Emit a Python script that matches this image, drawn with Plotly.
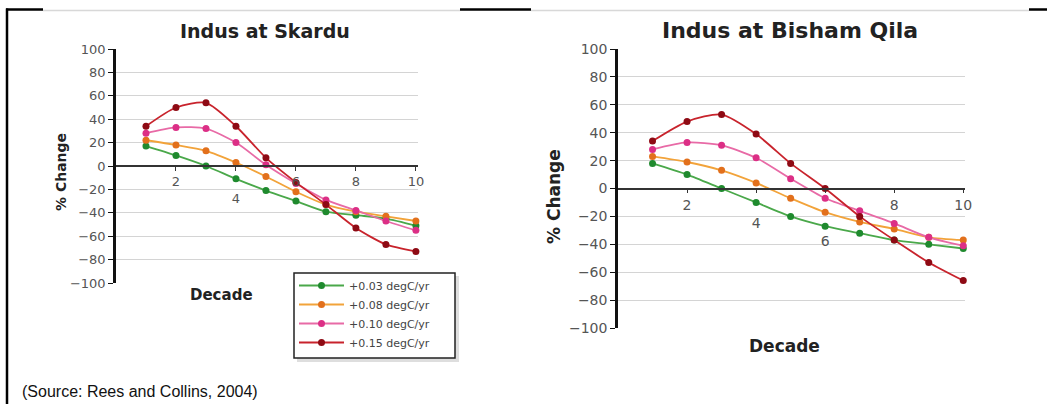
import plotly.graph_objects as go

decades = [1, 2, 3, 4, 5, 6, 7, 8, 9, 10]
series_names = ["+0.03 degC/yr", "+0.08 degC/yr", "+0.10 degC/yr", "+0.15 degC/yr"]

skardu_003 = [17, 9, 0, -11, -21, -30, -39, -42, -45, -51]
skardu_008 = [22, 18, 13, 3, -9, -22, -33, -39, -43, -47]
skardu_010 = [28, 33, 32, 20, 1, -15, -29, -38, -47, -55]
skardu_015 = [34, 50, 54, 34, 7, -14, -33, -53, -67, -73]

bisham_003 = [18, 10, 0, -10, -20, -27, -32, -37, -40, -43]
bisham_008 = [23, 19, 13, 4, -7, -17, -24, -29, -35, -37]
bisham_010 = [28, 33, 31, 22, 7, -7, -16, -25, -35, -41]
bisham_015 = [34, 48, 53, 39, 18, 0, -20, -37, -53, -66]

y_ticks = [-100, -80, -60, -40, -20, 0, 20, 40, 60, 80, 100]
x_ticks = [2, 4, 6, 8, 10]
skardu_xticktext = ["2", "<br>4", "6", "8", "10"]
bisham_xticktext = ["2", "<br>4", "<br><br>6", "8", "10"]

line_colors = ["#4aa84a", "#f2a33a", "#e86aa6", "#c8232c"]
marker_colors = ["#1f8a2e", "#e2701c", "#dc2f86", "#8e0a14"]

W, H = 1047, 404


def px_x(p):
    return p / W


def px_y(p):
    return 1 - p / H


fig = go.Figure()

skardu = [skardu_003, skardu_008, skardu_010, skardu_015]
bisham = [bisham_003, bisham_008, bisham_010, bisham_015]

for i, name in enumerate(series_names):
    fig.add_trace(go.Scatter(
        x=decades, y=skardu[i], name=name, mode="lines+markers",
        line=dict(color=line_colors[i], width=1.8, shape="spline", smoothing=0.7),
        marker=dict(color=marker_colors[i], size=7),
        xaxis="x", yaxis="y", cliponaxis=False, showlegend=True,
    ))
for i, name in enumerate(series_names):
    fig.add_trace(go.Scatter(
        x=decades, y=bisham[i], name=name, mode="lines+markers",
        line=dict(color=line_colors[i], width=1.8, shape="spline", smoothing=0.7),
        marker=dict(color=marker_colors[i], size=7),
        xaxis="x2", yaxis="y2", cliponaxis=False, showlegend=False,
    ))

tick_font = dict(family="DejaVu Sans", size=13, color="#555555")
tick_font2 = dict(family="DejaVu Sans", size=14, color="#555555")

left_dom_x = [px_x(116), px_x(418)]
left_dom_y = [px_y(283), px_y(49)]
right_dom_x = [px_x(618), px_x(965)]
right_dom_y = [px_y(328), px_y(49)]

fig.update_layout(
    width=W, height=H, autosize=False,
    margin=dict(l=0, r=0, t=0, b=0, autoexpand=False),
    paper_bgcolor="white", plot_bgcolor="white",
    xaxis=dict(domain=left_dom_x, range=[0, 10.07], anchor="free", automargin=False,
               position=(left_dom_y[0] + left_dom_y[1]) / 2,
               tickvals=x_ticks, ticktext=skardu_xticktext, showgrid=False, zeroline=False,
               showline=True, linecolor="#333333", linewidth=1.5,
               ticks="outside", ticklen=4, tickcolor="#333333", tickfont=tick_font),
    yaxis=dict(domain=left_dom_y, range=[-100, 100], anchor="x", automargin=False,
               tickvals=y_ticks, showgrid=True, gridcolor="#d4d4d4", gridwidth=1,
               zeroline=False, showline=True, linecolor="#111111", linewidth=2.5,
               ticks="outside", ticklen=5, tickcolor="#111111", tickfont=tick_font),
    xaxis2=dict(domain=right_dom_x, range=[0, 10.05], anchor="free", automargin=False,
                position=(right_dom_y[0] + right_dom_y[1]) / 2,
                tickvals=x_ticks, ticktext=bisham_xticktext, showgrid=False, zeroline=False,
                showline=True, linecolor="#333333", linewidth=1.5,
                ticks="outside", ticklen=4, tickcolor="#333333", tickfont=tick_font2),
    yaxis2=dict(domain=right_dom_y, range=[-100, 100], anchor="x2", automargin=False,
                tickvals=y_ticks, showgrid=True, gridcolor="#d4d4d4", gridwidth=1,
                zeroline=False, showline=True, linecolor="#111111", linewidth=2.5,
                ticks="outside", ticklen=5, tickcolor="#111111", tickfont=tick_font2),
    legend=dict(x=px_x(294), y=px_y(271), xanchor="left", yanchor="top",
                bgcolor="rgba(0,0,0,0)", borderwidth=0,
                font=dict(family="DejaVu Sans", size=11, color="#444444"),
                itemwidth=45, tracegroupgap=0),
    showlegend=True,
)


def label(text, x, y, size, family="DejaVu Sans", angle=0, xanchor="center", color="#222222"):
    return dict(text=text, x=px_x(x), y=px_y(y), xref="paper", yref="paper",
                xanchor=xanchor, yanchor="middle", showarrow=False, textangle=angle,
                font=dict(family=family, size=size, color=color))


annotations = [
    label("<b>Indus at Skardu</b>", 265, 31, 19),
    label("<b>Indus at Bisham Qila</b>", 790, 31, 22),
    label("<b>% Change</b>", 61, 172, 14, angle=-90),
    label("<b>% Change</b>", 554, 197, 17, angle=-90),
    label("<b>Decade</b>", 221, 295, 15),
    label("<b>Decade</b>", 784, 346, 17),
    label("(Source: Rees and Collins, 2004)", 20, 391, 16,
          family="Liberation Sans, Arial", xanchor="left", color="#111111"),
]
fig.update_layout(annotations=annotations)


def hline(x0, x1, y, color, width):
    return dict(type="line", xref="paper", yref="paper", x0=px_x(x0), x1=px_x(x1),
                y0=px_y(y), y1=px_y(y), line=dict(color=color, width=width))


shapes = [
    dict(type="line", xref="paper", yref="paper", x0=px_x(7), x1=px_x(7), y0=0, y1=px_y(8.5),
         line=dict(color="black", width=2.5)),
    hline(6, 43, 9.5, "black", 2.5),
    hline(43, 460, 10.5, "#d8d8d8", 1.5),
    hline(460, 531, 9.5, "black", 2.5),
    hline(531, 1029, 10.5, "#d8d8d8", 1.5),
    hline(1029, 1047, 9.5, "black", 2.5),
    # legend shadow and frame
    dict(type="rect", xref="paper", yref="paper", x0=px_x(297), x1=px_x(459), y0=px_y(362), y1=px_y(276),
         line=dict(width=0), fillcolor="rgba(0,0,0,0.13)", layer="above"),
    dict(type="rect", xref="paper", yref="paper", x0=px_x(294), x1=px_x(455), y0=px_y(358), y1=px_y(273),
         line=dict(color="#222222", width=1.5), fillcolor="white", layer="above"),
]
fig.update_layout(shapes=shapes)

fig.write_html("out.html", config=dict(displayModeBar=False),
               post_script="document.documentElement.style.margin='0px';document.body.style.margin='0px';document.body.style.overflow='hidden';")
